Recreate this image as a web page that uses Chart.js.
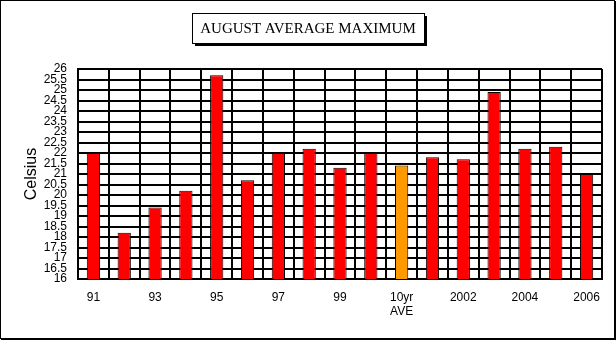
<!DOCTYPE html>
<html>
<head>
<meta charset="utf-8">
<script src="https://cdn.jsdelivr.net/npm/chart.js@4/dist/chart.umd.min.js"></script>
<style>
  html, body { margin: 0; padding: 0; background: #fff; }
  #wrap { width: 616px; height: 340px; }
</style>
</head>
<body>
<div id="wrap"><canvas id="chart-aug-max" width="616" height="340"></canvas></div>
<script>
// August average maximum temperature by year, with the 10 year average
const years = ["91", "92", "93", "94", "95", "96", "97", "98", "99", "2000",
  ["10yr", "AVE"], "2001", "2002", "2003", "2004", "2005", "2006"];
const maxTemps = [22.0, 18.2, 19.4, 20.2, 25.7, 20.7, 22.0, 22.2, 21.3, 22.0,
  21.4, 21.8, 21.7, 24.9, 22.2, 22.3, 21.0];
const barColors = years.map(y => Array.isArray(y) ? "#ff9900" : "#ff0000");
const yMin = 16, yMax = 26, yStep = 0.5;
const titleText = "AUGUST AVERAGE MAXIMUM";

// ── Outer frame and boxed title ──
const frameAndTitle = {
  id: "frameAndTitle",
  afterDraw(chart) {
    const ctx = chart.ctx;
    ctx.save();
    ctx.strokeStyle = "#000";
    ctx.lineWidth = 1;
    ctx.strokeRect(0.5, 0.5, 614, 338);
    ctx.fillStyle = "#000";
    ctx.fillRect(614, 1, 2, 339);
    ctx.fillRect(1, 338, 615, 2);

    ctx.font = "15px 'Liberation Serif', 'Times New Roman', serif";
    const w = ctx.measureText(titleText).width;
    const bw = Math.round(w + 16), bh = 30;
    const bx = Math.round(308 - bw / 2), by = 13;
    ctx.fillRect(bx + 3, by + 3, bw, bh);
    ctx.fillStyle = "#fff";
    ctx.fillRect(bx, by, bw, bh);
    ctx.strokeRect(bx + 0.5, by + 0.5, bw, bh);
    ctx.fillStyle = "#000";
    ctx.textAlign = "center";
    ctx.textBaseline = "middle";
    ctx.fillText(titleText, bx + bw / 2, by + bh / 2 + 1);
    ctx.restore();
  },
};

new Chart(document.getElementById("chart-aug-max"), {
  type: "bar",
  data: {
    labels: years,
    datasets: [{
      label: "Celsius",
      data: maxTemps,
      backgroundColor: barColors,
      borderColor: "#000",
      borderWidth: 1,
      barPercentage: 0.43,
      categoryPercentage: 1,
    }],
  },
  options: {
    responsive: false,
    animation: false,
    layout: { padding: { left: 10, right: 14, top: 69, bottom: 20 } },
    plugins: {
      legend: { display: false },
      tooltip: { enabled: false },
    },
    scales: {
      x: {
        offset: true,
        grid: { offset: true, color: "#000", lineWidth: 2, drawTicks: false },
        border: { color: "#000", width: 2 },
        ticks: {
          autoSkip: false,
          maxRotation: 0,
          padding: 11,
          color: "#000",
          font: { family: "'Liberation Sans', Arial, sans-serif", size: 12 },
          lineHeight: 1.1,
          callback: (v, i) => (i % 2 === 0 ? years[i] : ""),
        },
        afterFit: s => { s.height = 41; },
      },
      y: {
        min: yMin,
        max: yMax,
        grid: { color: "#000", lineWidth: 2, drawTicks: false },
        border: { color: "#000", width: 2 },
        ticks: {
          stepSize: yStep,
          autoSkip: false,
          padding: 11,
          color: "#000",
          font: { family: "'Liberation Sans', Arial, sans-serif", size: 12, lineHeight: 0.9 },
          callback: v => String(Math.round(v * 10) / 10),
        },
        title: {
          display: true,
          text: "Celsius",
          color: "#000",
          padding: { top: 12, bottom: 0 },
          font: { family: "'Liberation Sans', Arial, sans-serif", size: 16 },
        },
        afterFit: s => { s.width = 68; },
      },
    },
  },
  plugins: [frameAndTitle],
});
</script>
</body>
</html>
